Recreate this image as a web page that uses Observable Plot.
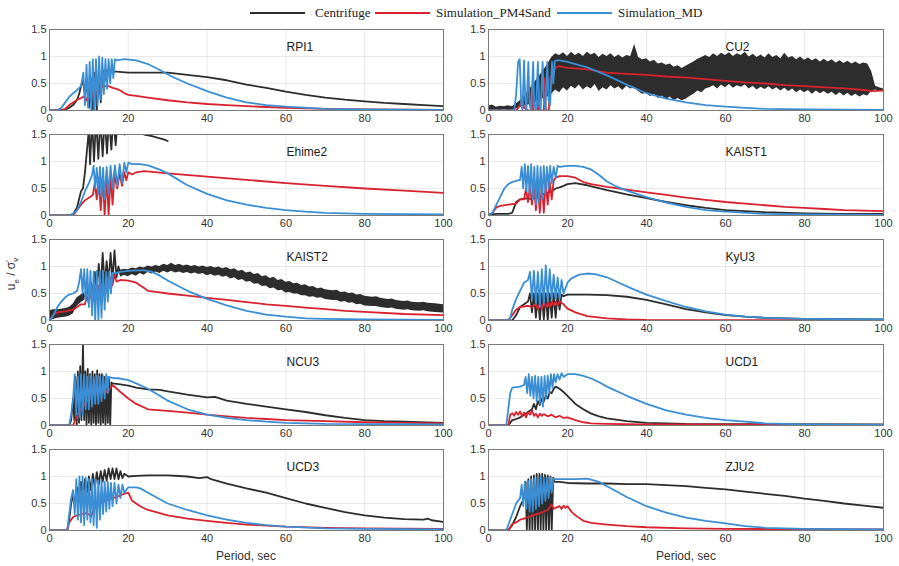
<!DOCTYPE html>
<html><head><meta charset="utf-8">
<script src="https://cdn.jsdelivr.net/npm/d3@7"></script>
<script src="https://cdn.jsdelivr.net/npm/@observablehq/plot@0.6"></script>
<style>
body{margin:0;background:#fff;}
#root{position:relative;width:899px;height:566px;overflow:hidden;font-family:"Liberation Sans",Arial,sans-serif;background:#fff;}
.leg{position:absolute;font-family:"Liberation Serif","Times New Roman",serif;font-size:13px;color:#222;top:5px;line-height:16px;white-space:nowrap;}
.sw{position:absolute;top:12px;height:0;border-top:2.5px solid;}
.xl{position:absolute;font-size:12px;color:#333;top:549px;width:120px;text-align:center;}
</style></head><body><div id="root"></div>
<script>
// ---- series names / tick labels ----
const seriesNames = ["Centrifuge", "Simulation_PM4Sand", "Simulation_MD"];
const xTicks = [0, 20, 40, 60, 80, 100];
const yTicks = [0, 0.5, 1, 1.5];
const panelNames = ["RPI1", "CU2", "Ehime2", "KAIST1", "KAIST2", "KyU3", "NCU3", "UCD1", "UCD3", "ZJU2"];

// ---- RPI1 ----
const rpi1_cf = [[0,0],[2,0],[3,0.01],[4,0.02],[5,0.05],[6,0.1],[7,0.2],[7.5,0.3],[8,0.45],[8.5,0.55],[9,0.3],[9.5,0.5],[10,0.05],[10.5,0.6],[11,0],[11.5,0.7],[12,0],[12.5,0.75],[13,0.15],[13.5,0.75],[14,0.55],[14.5,0.74],[15,0.72],[17,0.72],[20,0.7],[25,0.7],[30,0.7],[35,0.66],[40,0.62],[45,0.56],[50,0.48],[55,0.42],[60,0.35],[65,0.29],[70,0.24],[75,0.2],[80,0.17],[85,0.14],[90,0.12],[95,0.1],[100,0.08]];
const rpi1_pm = [[0,0],[3,0],[4,0.03],[5,0.1],[6,0.15],[7,0.2],[8,0.23],[9,0.27],[9.5,0.18],[10,0.3],[10.5,0.2],[11,0.35],[11.5,0.26],[12,0.4],[12.5,0.35],[13,0.43],[14,0.45],[15,0.45],[16,0.42],[17,0.4],[18,0.37],[19,0.32],[20,0.29],[22,0.27],[25,0.24],[30,0.19],[35,0.15],[40,0.12],[45,0.1],[50,0.08],[55,0.065],[60,0.05],[70,0.03],[80,0.02],[90,0.015],[100,0.01]];
const rpi1_md = [[0,0],[2,0],[3,0.05],[4,0.15],[5,0.25],[6,0.32],[7,0.38],[8,0.45],[8.6,0.7],[9,0.1],[9.4,0.85],[9.8,0.05],[10.2,0.9],[10.6,0],[11,0.95],[11.4,0],[11.8,0.95],[12.2,0.1],[12.6,1.0],[13,0.2],[13.4,0.98],[13.8,0.3],[14.2,0.95],[14.6,0.4],[15,0.95],[15.4,0.5],[15.8,0.95],[16.2,0.6],[16.6,0.95],[17,0.93],[19,0.95],[22,0.93],[25,0.86],[28,0.75],[31,0.63],[35,0.5],[40,0.36],[45,0.24],[50,0.15],[55,0.1],[60,0.07],[70,0.03],[80,0.02],[100,0.01]];

// ---- CU2 ---- (centrifuge as a noisy band: [t, low, high])
const cu2_cfBand = [[0,0,0.08],[1,0,0.1],[2,0.01,0.06],[3,0,0.08],[4,0.02,0.07],[5,0,0.09],[6,0.01,0.07],[7,0.03,0.12],[8,0.05,0.18],[9,0.08,0.25],[10,0.1,0.35],[11,0.12,0.45],[12,0.15,0.55],[13,0.2,0.65],[14,0.22,0.75],[15,0.25,0.85],[16,0.3,0.98],[17,0.38,1.05],[18,0.33,1.02],[19,0.42,1.07],[20,0.36,1.0],[21,0.45,1.08],[22,0.4,1.02],[23,0.47,1.06],[24,0.38,1.0],[25,0.44,1.08],[26,0.4,1.03],[27,0.48,1.06],[28,0.35,0.98],[29,0.42,1.04],[30,0.38,1.0],[31,0.46,1.05],[32,0.4,0.98],[33,0.44,1.03],[34,0.37,0.97],[35,0.45,1.02],[36,0.4,1.0],[37,0.42,1.22],[38,0.35,0.98],[39,0.3,0.94],[40,0.32,0.96],[41,0.26,0.9],[42,0.3,0.93],[43,0.22,0.86],[44,0.27,0.88],[45,0.2,0.84],[46,0.25,0.86],[47,0.18,0.8],[48,0.22,0.83],[49,0.18,0.78],[50,0.21,0.82],[51,0.26,0.86],[52,0.3,0.9],[53,0.36,0.95],[54,0.33,0.98],[55,0.4,1.02],[56,0.42,0.98],[57,0.46,1.05],[58,0.4,1.0],[59,0.47,1.06],[60,0.42,1.02],[61,0.48,1.07],[62,0.41,1.0],[63,0.46,1.05],[64,0.43,1.02],[65,0.47,1.08],[66,0.4,0.99],[67,0.45,1.04],[68,0.38,0.98],[69,0.43,1.03],[70,0.39,0.97],[71,0.44,1.05],[72,0.38,0.98],[73,0.42,1.02],[74,0.36,0.96],[75,0.41,1.06],[76,0.35,0.97],[77,0.4,1.0],[78,0.33,0.94],[79,0.38,0.99],[80,0.33,0.93],[81,0.37,0.97],[82,0.3,0.92],[83,0.36,0.96],[84,0.31,0.9],[85,0.35,0.95],[86,0.3,0.9],[87,0.34,0.94],[88,0.28,0.88],[89,0.33,0.92],[90,0.27,0.87],[91,0.32,0.91],[92,0.26,0.86],[93,0.3,0.9],[94,0.25,0.85],[95,0.29,0.88],[96,0.27,0.86],[97,0.35,0.72],[98,0.38,0.45],[99,0.36,0.42],[100,0.37,0.4]];
const cu2_pm = [[0,0],[7,0],[8,0.1],[8.5,0.2],[9,0.05],[10,0],[10.8,0],[11,0.45],[11.3,0],[12.5,0],[12.7,0.5],[13,0],[14,0],[14.2,0.6],[14.5,0],[15.3,0],[15.5,0.6],[16,0.65],[16.5,0.72],[17,0.8],[18,0.82],[20,0.79],[22,0.78],[25,0.76],[30,0.7],[35,0.68],[40,0.66],[45,0.63],[50,0.61],[55,0.58],[60,0.55],[65,0.52],[70,0.5],[75,0.47],[80,0.45],[85,0.43],[90,0.41],[95,0.38],[97,0.36],[100,0.37]];
const cu2_md = [[0,0],[6.5,0],[7,0.3],[7.5,0.9],[7.9,0.95],[8.3,0.1],[8.6,0],[9,0.93],[9.3,0.2],[9.6,0],[10.1,0.9],[10.4,0.1],[10.8,0],[11.3,0.9],[11.6,0.1],[12,0],[12.5,0.9],[12.8,0.1],[13.2,0],[13.7,0.9],[14,0.15],[14.4,0],[14.9,0.9],[15.2,0.2],[15.6,0.1],[16.1,0.9],[16.4,0.5],[16.8,0.92],[17.5,0.93],[18,0.93],[20,0.9],[25,0.8],[30,0.65],[35,0.48],[40,0.32],[45,0.22],[50,0.15],[55,0.1],[60,0.07],[65,0.05],[70,0.03],[80,0.02],[90,0.015],[100,0.01]];

// ---- Ehime2 ----
const ehime2_cf = [[0,0],[5,0],[6,0.03],[7,0.15],[7.5,0.3],[8,0.45],[8.5,0.5],[9,0.8],[9.5,1.2],[10,1.6],[10.3,0.95],[10.8,1.8],[11.3,1.0],[11.8,1.8],[12.4,1.05],[12.9,1.8],[13.5,1.1],[14,1.8],[14.6,1.15],[15.1,1.8],[15.7,1.22],[16.2,1.8],[16.8,1.3],[17.3,1.8],[18,1.6],[19,1.5],[20,1.7],[22,1.55],[24,1.5],[26,1.47],[28,1.43],[29,1.41],[30,1.38]];
const ehime2_pm = [[0,0],[6,0],[7,0.1],[8,0.2],[9,0.28],[10,0.33],[11,0.38],[11.5,0.6],[12,0.3],[12.5,0.7],[13,0.1],[13.5,0.72],[14,0],[14.5,0.73],[15,0],[15.5,0.75],[16,0.2],[16.5,0.75],[17.2,0.5],[17.8,0.78],[18.4,0.55],[19,0.8],[19.5,0.65],[20,0.8],[21,0.76],[22,0.8],[24,0.82],[30,0.78],[40,0.72],[50,0.66],[60,0.6],[70,0.55],[80,0.5],[90,0.46],[100,0.42]];
const ehime2_md = [[0,0],[5,0],[6,0.03],[7,0.1],[8,0.25],[9,0.45],[10,0.6],[10.8,0.75],[11.2,0.92],[11.6,0.5],[12,0.88],[12.4,0.4],[12.8,0.9],[13.2,0.35],[13.6,0.88],[14,0.3],[14.5,0.9],[15,0.4],[15.5,0.92],[16,0.5],[16.6,0.93],[17.2,0.55],[17.8,0.95],[18.4,0.6],[19,0.98],[19.5,0.8],[20,0.98],[21,0.95],[23,0.95],[25,0.93],[28,0.85],[30,0.78],[35,0.56],[40,0.4],[45,0.28],[50,0.2],[55,0.14],[60,0.1],[65,0.07],[70,0.05],[80,0.03],[100,0.02]];

// ---- KAIST1 ----
const kaist1_cf = [[0,0.02],[2,0.03],[5,0.03],[6,0.05],[6.5,0.15],[7,0.25],[8,0.3],[10,0.32],[11,0.3],[12,0.35],[13,0.33],[14,0.4],[15,0.42],[16,0.45],[17,0.5],[18,0.52],[19,0.55],[20,0.58],[22,0.6],[25,0.56],[30,0.47],[35,0.39],[40,0.32],[45,0.25],[50,0.19],[55,0.14],[60,0.1],[65,0.08],[70,0.06],[80,0.04],[90,0.03],[100,0.03]];
const kaist1_pm = [[0,0],[1,0.05],[2,0.15],[3,0.18],[5,0.2],[7,0.22],[8,0.3],[9,0.3],[9.5,0.5],[10,0.25],[10.5,0.55],[11,0.2],[11.5,0.6],[12,0.1],[12.5,0.55],[13,0.05],[13.5,0.6],[14,0.05],[14.5,0.6],[15,0.2],[15.5,0.62],[16,0.3],[16.5,0.65],[17,0.7],[18,0.73],[20,0.73],[22,0.7],[24,0.62],[26,0.58],[30,0.53],[35,0.48],[40,0.43],[45,0.38],[50,0.33],[55,0.29],[60,0.25],[65,0.22],[70,0.19],[75,0.16],[80,0.14],[85,0.12],[90,0.1],[95,0.09],[100,0.08]];
const kaist1_md = [[0,0],[1,0.05],[2,0.2],[3,0.35],[4,0.5],[5,0.58],[6,0.62],[7,0.64],[8,0.66],[8.4,0.9],[8.8,0.5],[9.2,0.95],[9.6,0.45],[10,0.92],[10.4,0.4],[10.8,0.95],[11.2,0.3],[11.6,0.9],[12,0.2],[12.4,0.92],[12.8,0.25],[13.2,0.9],[13.6,0.3],[14,0.92],[14.4,0.4],[14.8,0.9],[15.2,0.5],[15.6,0.92],[16,0.6],[16.5,0.9],[17,0.7],[17.5,0.92],[18,0.9],[20,0.92],[22,0.92],[24,0.9],[26,0.85],[28,0.75],[30,0.63],[32,0.55],[35,0.46],[40,0.34],[45,0.24],[50,0.16],[55,0.1],[60,0.07],[70,0.03],[80,0.02],[100,0.01]];

// ---- KAIST2 ----
const kaist2_cfBandEarly = [[0,0,0.18],[1,0.02,0.2],[2,0.04,0.2],[3,0.05,0.21],[4,0.06,0.22],[5,0.08,0.24],[6,0.12,0.3],[7,0.26,0.42],[8,0.33,0.47],[9,0.38,0.52]];
const kaist2_cfBandLate = [[18,0.8,0.93],[19,0.84,0.95],[20,0.81,0.94],[21,0.85,0.97],[22,0.82,0.96],[23,0.87,0.99],[24,0.84,0.97],[25,0.89,1.01],[26,0.86,0.99],[27,0.9,1.02],[28,0.87,1.0],[29,0.91,1.04],[30,0.88,1.02],[31,0.91,1.06],[32,0.88,1.02],[33,0.9,1.04],[34,0.87,1.01],[35,0.89,1.03],[36,0.86,1.0],[37,0.88,1.02],[38,0.85,0.99],[39,0.87,1.01],[40,0.83,0.98],[41,0.85,1.0],[42,0.82,0.97],[43,0.84,0.99],[44,0.8,0.96],[45,0.82,0.98],[46,0.77,0.94],[47,0.79,0.96],[48,0.74,0.91],[49,0.76,0.93],[50,0.71,0.88],[51,0.72,0.9],[52,0.67,0.85],[53,0.68,0.87],[54,0.63,0.81],[55,0.64,0.83],[56,0.59,0.78],[57,0.6,0.8],[58,0.55,0.74],[59,0.56,0.76],[60,0.51,0.71],[61,0.52,0.72],[62,0.49,0.68],[63,0.49,0.69],[64,0.46,0.65],[65,0.46,0.66],[66,0.43,0.62],[67,0.44,0.63],[68,0.41,0.59],[69,0.42,0.6],[70,0.39,0.57],[72,0.37,0.55],[73,0.37,0.56],[74,0.34,0.52],[75,0.35,0.53],[76,0.32,0.5],[77,0.33,0.51],[78,0.29,0.47],[79,0.3,0.48],[80,0.27,0.45],[82,0.26,0.43],[83,0.26,0.44],[84,0.24,0.41],[86,0.22,0.39],[87,0.23,0.4],[88,0.21,0.37],[90,0.19,0.35],[91,0.2,0.36],[92,0.18,0.34],[94,0.17,0.33],[95,0.18,0.34],[96,0.16,0.32],[98,0.15,0.31],[100,0.14,0.29]];
const kaist2_cf = [[9,0.45],[9.5,0.55],[10,0.45],[10.5,0.7],[11,0.5],[11.5,0.9],[12,0.55],[12.5,1.05],[13,0.6],[13.5,1.25],[14,0.65],[14.5,1.1],[15,0.7],[15.5,1.25],[16,0.75],[16.5,1.3],[17,0.8],[17.5,1.0],[18,0.85]];
const kaist2_pm = [[0,0],[1,0.1],[2,0.15],[4,0.17],[6,0.2],[7,0.25],[8,0.3],[9,0.3],[9.5,0.45],[10,0.32],[10.5,0.55],[11,0.35],[11.5,0.6],[12,0.4],[12.5,0.65],[13,0.45],[13.5,0.7],[14,0.5],[14.5,0.75],[15,0.6],[15.5,0.8],[16,0.65],[16.5,0.85],[17,0.72],[18,0.75],[20,0.74],[22,0.7],[24,0.6],[25,0.55],[28,0.52],[30,0.5],[35,0.46],[40,0.42],[45,0.38],[50,0.34],[55,0.3],[60,0.27],[65,0.24],[70,0.21],[75,0.18],[80,0.16],[90,0.12],[100,0.1]];
const kaist2_md = [[0,0],[1,0.1],[2,0.25],[3,0.35],[4,0.43],[5,0.48],[6,0.5],[7,0.55],[7.5,0.7],[8,0.95],[8.4,0.5],[8.8,0.95],[9.2,0.35],[9.6,0.95],[10,0.25],[10.4,0.92],[10.8,0.1],[11.2,0.9],[11.6,0],[12,0.92],[12.4,0],[12.8,0.9],[13.2,0.05],[13.6,0.92],[14,0.2],[14.4,0.9],[14.8,0.35],[15.2,0.9],[15.6,0.5],[16,0.88],[17,0.88],[18,0.9],[20,0.92],[22,0.93],[24,0.93],[26,0.9],[28,0.83],[30,0.74],[35,0.55],[40,0.4],[45,0.28],[50,0.18],[55,0.11],[60,0.07],[65,0.04],[70,0.03],[80,0.02],[100,0.01]];

// ---- KyU3 ----
const kyu3_cf = [[0,0],[6,0],[7,0.1],[8,0.25],[9,0.3],[10,0.35],[10.5,0.5],[11,0.15],[11.5,0.5],[12,0.05],[12.5,0.5],[13,0],[13.5,0.5],[14,0.02],[14.5,0.5],[15,0],[15.5,0.5],[16,0.05],[16.5,0.5],[17,0.05],[17.5,0.5],[18,0.2],[18.5,0.48],[19,0.45],[20,0.48],[25,0.48],[30,0.47],[35,0.44],[40,0.38],[45,0.3],[50,0.21],[55,0.15],[60,0.1],[65,0.07],[70,0.05],[80,0.03],[100,0.02]];
const kyu3_pm = [[0,0],[5,0],[6,0.1],[7,0.2],[8,0.25],[10,0.27],[11,0.25],[12,0.3],[12.5,0.2],[13,0.32],[13.5,0.22],[14,0.33],[14.5,0.25],[15,0.33],[15.5,0.25],[16,0.35],[16.5,0.28],[17,0.35],[17.5,0.28],[18,0.35],[19,0.3],[20,0.22],[22,0.15],[25,0.08],[30,0.04],[35,0.02],[40,0.01],[100,0]];
const kyu3_md = [[0,0],[5,0],[5.5,0.05],[6,0.2],[7,0.4],[8,0.55],[9,0.7],[10,0.75],[10.5,0.9],[11,0.4],[11.5,0.92],[12,0.3],[12.5,0.9],[13,0.25],[13.5,0.95],[14,0.3],[14.5,1.02],[15,0.35],[15.5,0.95],[16,0.4],[16.5,0.85],[17,0.4],[17.5,0.8],[18,0.4],[18.5,0.75],[19,0.5],[20,0.7],[21,0.78],[23,0.85],[25,0.87],[27,0.86],[30,0.8],[33,0.7],[36,0.6],[40,0.48],[45,0.36],[50,0.25],[55,0.17],[60,0.11],[65,0.07],[70,0.05],[80,0.03],[100,0.02]];

// ---- NCU3 ----
const ncu3_cf = [[0,0],[5,0],[5.5,0.1],[6,0.5],[6.3,0.1],[6.6,0.9],[6.9,0],[7.2,1.0],[7.5,0.05],[7.8,1.1],[8.1,0.1],[8.5,1.5],[8.8,0.1],[9.1,1.0],[9.4,0],[9.7,1.05],[10,0.05],[10.3,0.95],[10.6,0],[10.9,1.0],[11.2,0.05],[11.5,0.95],[11.8,0],[12.1,1.02],[12.4,0.05],[12.7,0.95],[13,0],[13.3,0.95],[13.6,0.05],[13.9,0.9],[14.2,0],[14.5,0.9],[14.8,0.05],[15.1,0.88],[15.4,0],[15.7,0.8],[16,0.78],[18,0.76],[20,0.74],[22,0.7],[25,0.67],[28,0.66],[30,0.63],[35,0.57],[40,0.52],[42,0.53],[45,0.46],[50,0.4],[55,0.35],[60,0.3],[65,0.25],[70,0.19],[75,0.14],[80,0.1],[85,0.08],[90,0.07],[100,0.05]];
const ncu3_pm = [[0,0],[6,0],[7,0.2],[8,0.3],[9,0.4],[10,0.5],[11,0.7],[11.5,0.85],[12,0.6],[13,0.7],[14,0.6],[15,0.65],[16,0.75],[18,0.62],[20,0.5],[22,0.4],[25,0.3],[30,0.27],[35,0.24],[40,0.2],[45,0.17],[50,0.14],[55,0.12],[60,0.1],[70,0.08],[80,0.06],[90,0.05],[100,0.04]];
const ncu3_md = [[0,0],[5,0],[5.5,0.2],[6,0.5],[6.4,0.95],[6.8,0.2],[7.2,0.9],[7.6,0.15],[8,0.95],[8.4,0.2],[8.8,0.95],[9.2,0.3],[9.6,0.9],[10,0.3],[10.4,0.92],[10.8,0.35],[11.2,0.9],[11.6,0.4],[12,0.92],[12.4,0.4],[12.8,0.9],[13.2,0.45],[13.6,0.92],[14,0.5],[14.4,0.95],[14.8,0.6],[15,0.9],[16,0.88],[18,0.87],[20,0.84],[22,0.78],[25,0.68],[28,0.55],[30,0.46],[35,0.3],[40,0.2],[45,0.14],[50,0.1],[55,0.07],[60,0.05],[70,0.03],[100,0.02]];

// ---- UCD1 ----
const ucd1_cf = [[0,0],[5,0],[6,0.1],[7,0.12],[8,0.15],[9,0.2],[10,0.25],[11,0.3],[11.5,0.4],[12,0.3],[12.5,0.45],[13,0.38],[13.5,0.5],[14,0.45],[14.5,0.55],[15,0.5],[15.5,0.62],[16,0.6],[16.5,0.68],[17,0.72],[18,0.68],[19,0.62],[20,0.55],[22,0.4],[24,0.3],[26,0.22],[28,0.17],[30,0.13],[35,0.08],[40,0.05],[50,0.03],[100,0.02]];
const ucd1_pm = [[0,0],[5,0],[5.5,0.2],[6,0.23],[6.5,0.18],[7,0.25],[7.5,0.2],[8,0.26],[8.5,0.17],[9,0.24],[9.5,0.15],[10,0.25],[10.5,0.2],[11,0.28],[11.5,0.18],[12,0.22],[12.5,0.15],[13,0.22],[13.5,0.18],[14,0.21],[15,0.17],[16,0.2],[17,0.15],[18,0.18],[19,0.14],[20,0.15],[22,0.1],[24,0.06],[26,0.04],[30,0.03],[40,0.02],[100,0.01]];
const ucd1_md = [[0,0],[4.5,0],[5,0.3],[5.5,0.6],[6,0.7],[8,0.72],[9,0.75],[9.4,0.9],[9.8,0.6],[10.2,0.95],[10.6,0.55],[11,0.9],[11.4,0.5],[11.8,0.92],[12.2,0.45],[12.6,0.9],[13,0.4],[13.4,0.9],[13.8,0.35],[14.2,0.92],[14.6,0.5],[15,0.92],[15.4,0.6],[15.8,0.95],[16.2,0.7],[16.6,0.95],[17,0.8],[17.5,0.95],[18,0.85],[18.5,0.97],[19,0.9],[20,0.95],[22,0.95],[24,0.92],[26,0.87],[28,0.8],[30,0.72],[35,0.55],[40,0.4],[45,0.28],[50,0.2],[55,0.14],[60,0.1],[65,0.07],[70,0.04],[80,0.02],[100,0.01]];

// ---- UCD3 ----
const ucd3_cf = [[0,0],[4.5,0],[5,0.2],[5.5,0.5],[6,0.65],[6.5,0.5],[7,0.8],[7.5,0.55],[8,0.9],[8.5,0.6],[9,0.95],[9.5,0.7],[10,1.0],[10.5,0.75],[11,1.05],[11.5,0.8],[12,1.08],[12.5,0.85],[13,1.1],[13.5,0.9],[14,1.12],[14.5,0.92],[15,1.15],[15.5,0.95],[16,1.15],[16.5,0.95],[17,1.15],[17.5,0.95],[18,1.1],[18.5,0.97],[19,1.05],[20,1.0],[22,1.01],[25,1.02],[30,1.02],[35,1.0],[38,0.97],[40,0.99],[41,0.95],[45,0.87],[50,0.78],[55,0.7],[60,0.6],[65,0.5],[70,0.42],[75,0.34],[80,0.28],[85,0.24],[90,0.21],[95,0.2],[96,0.22],[97,0.19],[100,0.16]];
const ucd3_pm = [[0,0],[4.5,0],[5,0.15],[6,0.25],[7,0.28],[8,0.3],[9,0.32],[10,0.3],[10.5,0.25],[11,0.35],[12,0.45],[13,0.5],[14,0.55],[15,0.58],[16,0.6],[17,0.62],[18,0.65],[19,0.68],[20,0.7],[21,0.55],[22,0.5],[23,0.45],[25,0.38],[28,0.32],[30,0.28],[35,0.22],[40,0.18],[45,0.14],[50,0.11],[55,0.09],[60,0.07],[70,0.05],[80,0.04],[100,0.03]];
const ucd3_md = [[0,0],[4.5,0],[5,0.3],[5.5,0.6],[6,0.75],[6.4,0.3],[6.8,0.95],[7.2,0.2],[7.6,1.0],[8,0.15],[8.4,1.0],[8.8,0.1],[9.2,0.98],[9.6,0.2],[10,0.95],[10.4,0.15],[10.8,0.95],[11.2,0.1],[11.6,0.95],[12,0.05],[12.4,0.93],[12.8,0.2],[13.2,0.92],[13.6,0.3],[14,0.9],[14.4,0.35],[14.8,0.9],[15.2,0.4],[15.6,0.88],[16,0.45],[16.5,0.88],[17,0.5],[17.5,0.85],[18,0.6],[18.5,0.85],[19,0.7],[20,0.8],[22,0.8],[23,0.78],[25,0.7],[28,0.58],[30,0.5],[35,0.38],[40,0.28],[45,0.2],[50,0.14],[55,0.1],[60,0.07],[70,0.04],[80,0.03],[100,0.02]];

// ---- ZJU2 ----
const zju2_cf = [[0,0],[5,0],[6,0.1],[7,0.25],[8,0.45],[9,0.6],[9.4,0.9],[9.7,0],[10.1,0.95],[10.4,0],[10.8,1.0],[11.1,0],[11.5,1.02],[11.8,0],[12.2,1.05],[12.5,0],[12.9,1.05],[13.2,0],[13.6,1.05],[13.9,0],[14.3,1.03],[14.6,0],[15,1.02],[15.3,0],[15.7,1.0],[16,0],[16.4,0.98],[16.7,0.9],[18,0.9],[20,0.88],[25,0.87],[30,0.87],[35,0.86],[40,0.86],[45,0.84],[50,0.82],[55,0.79],[60,0.76],[65,0.72],[70,0.68],[75,0.64],[80,0.59],[85,0.55],[90,0.5],[95,0.46],[100,0.42]];
const zju2_pm = [[0,0],[5,0],[6,0.12],[7,0.15],[8,0.2],[9,0.22],[10,0.25],[11,0.27],[12,0.3],[13,0.32],[14,0.35],[15,0.38],[16,0.48],[16.5,0.4],[17,0.42],[18,0.45],[18.5,0.4],[19,0.46],[19.5,0.42],[20,0.45],[21,0.35],[22,0.28],[24,0.18],[26,0.14],[30,0.11],[35,0.08],[40,0.06],[50,0.04],[60,0.03],[100,0.02]];
const zju2_md = [[0,0],[4.5,0],[5,0.1],[6,0.3],[7,0.5],[8,0.6],[8.4,0.85],[8.8,0.45],[9.2,0.9],[9.6,0.4],[10,0.92],[10.4,0.35],[10.8,0.95],[11.2,0.35],[11.6,0.97],[12,0.4],[12.4,0.98],[12.8,0.45],[13.2,1.0],[13.6,0.5],[14,0.98],[14.4,0.55],[14.8,0.98],[15.2,0.6],[15.6,0.98],[16,0.7],[16.5,0.96],[17,0.95],[20,0.95],[22,0.95],[25,0.96],[28,0.9],[30,0.82],[35,0.62],[40,0.45],[45,0.33],[50,0.24],[55,0.18],[60,0.13],[65,0.08],[70,0.05],[80,0.03],[100,0.02]];

// ---- build ----
const C_CF = "#2d2d2d", C_PM = "#d8222e", C_MD = "#3b8ed4";
const root = document.getElementById("root");
const pts = a => a.map(([t, v]) => ({t, v}));
const band = a => a.map(([t, lo, hi]) => ({t, lo, hi}));

const panels = [
  {name: panelNames[0], cf: rpi1_cf, pm: rpi1_pm, md: rpi1_md, bands: []},
  {name: panelNames[1], cf: null, pm: cu2_pm, md: cu2_md, bands: [cu2_cfBand]},
  {name: panelNames[2], cf: ehime2_cf, pm: ehime2_pm, md: ehime2_md, bands: []},
  {name: panelNames[3], cf: kaist1_cf, pm: kaist1_pm, md: kaist1_md, bands: []},
  {name: panelNames[4], cf: kaist2_cf, pm: kaist2_pm, md: kaist2_md, bands: [kaist2_cfBandEarly, kaist2_cfBandLate]},
  {name: panelNames[5], cf: kyu3_cf, pm: kyu3_pm, md: kyu3_md, bands: []},
  {name: panelNames[6], cf: ncu3_cf, pm: ncu3_pm, md: ncu3_md, bands: []},
  {name: panelNames[7], cf: ucd1_cf, pm: ucd1_pm, md: ucd1_md, bands: []},
  {name: panelNames[8], cf: ucd3_cf, pm: ucd3_pm, md: ucd3_md, bands: []},
  {name: panelNames[9], cf: zju2_cf, pm: zju2_pm, md: zju2_md, bands: []}
];

const colLeft = [49, 488], colWidth = [394, 395];
const rowTop = [29, 134, 239, 344, 449];
const mL = 30, mR = 14, mT = 4, mB = 16, frameH = 81;
const SW = 1.8;

panels.forEach((p, i) => {
  const col = i % 2, row = Math.floor(i / 2);
  const marks = [];
  for (const b of p.bands) marks.push(Plot.areaY(band(b), {x: "t", y1: "lo", y2: "hi", fill: C_CF, clip: true}));
  if (p.cf) marks.push(Plot.line(pts(p.cf), {x: "t", y: "v", stroke: C_CF, strokeWidth: SW, clip: true}));
  marks.push(Plot.line(pts(p.pm), {x: "t", y: "v", stroke: C_PM, strokeWidth: SW, clip: true}));
  marks.push(Plot.line(pts(p.md), {x: "t", y: "v", stroke: C_MD, strokeWidth: SW, clip: true}));
  marks.push(Plot.frame({stroke: "#7a7a7a", strokeWidth: 1}));
  marks.push(Plot.text([p.name], {frameAnchor: "top-left", dx: 237, dy: 18, text: d => d, textAnchor: "start", lineAnchor: "middle", fontSize: 12, fill: "#222"}));
  const svg = Plot.plot({
    width: mL + colWidth[col] + mR, height: mT + frameH + mB,
    marginLeft: mL, marginRight: mR, marginTop: mT, marginBottom: mB,
    x: {domain: [0, 100], ticks: xTicks, tickSize: 0, tickPadding: 4, label: null, grid: true},
    y: {domain: [0, 1.5], ticks: yTicks, tickFormat: d => String(d), tickSize: 0, tickPadding: 3, label: null, grid: true},
    style: {fontFamily: "Liberation Sans, Arial, sans-serif", fontSize: "11px", color: "#333", background: "transparent", overflow: "visible"},
    marks
  });
  svg.style.position = "absolute";
  svg.style.left = (colLeft[col] - mL) + "px";
  svg.style.top = (rowTop[row] - mT) + "px";
  root.appendChild(svg);
});

// legend
const legColors = [C_CF, C_PM, C_MD];
const swX = [250, 375, 557], txX = [315, 436, 618];
seriesNames.forEach((s, i) => {
  const sw = document.createElement("div");
  sw.className = "sw"; sw.style.left = swX[i] + "px"; sw.style.width = "55px"; sw.style.borderColor = legColors[i];
  root.appendChild(sw);
  const tx = document.createElement("div");
  tx.className = "leg"; tx.style.left = txX[i] + "px"; tx.textContent = s;
  root.appendChild(tx);
});

// axis labels
["Period, sec", "Period, sec"].forEach((s, i) => {
  const d = document.createElement("div");
  d.className = "xl"; d.style.left = ([246, 686][i] - 60) + "px"; d.textContent = s;
  root.appendChild(d);
});
const yl = document.createElement("div");
yl.style.cssText = "position:absolute;left:14px;top:274px;transform:translate(-50%,-50%) rotate(-90deg);font-size:12px;color:#333;white-space:nowrap;line-height:12px;";
yl.innerHTML = 'u<sub style="font-size:8px">e</sub> / &sigma;<span style="display:inline-flex;flex-direction:column;font-size:8px;line-height:7px;vertical-align:middle;"><span>&prime;</span><span>v</span></span>';
root.appendChild(yl);
</script>
</body></html>
